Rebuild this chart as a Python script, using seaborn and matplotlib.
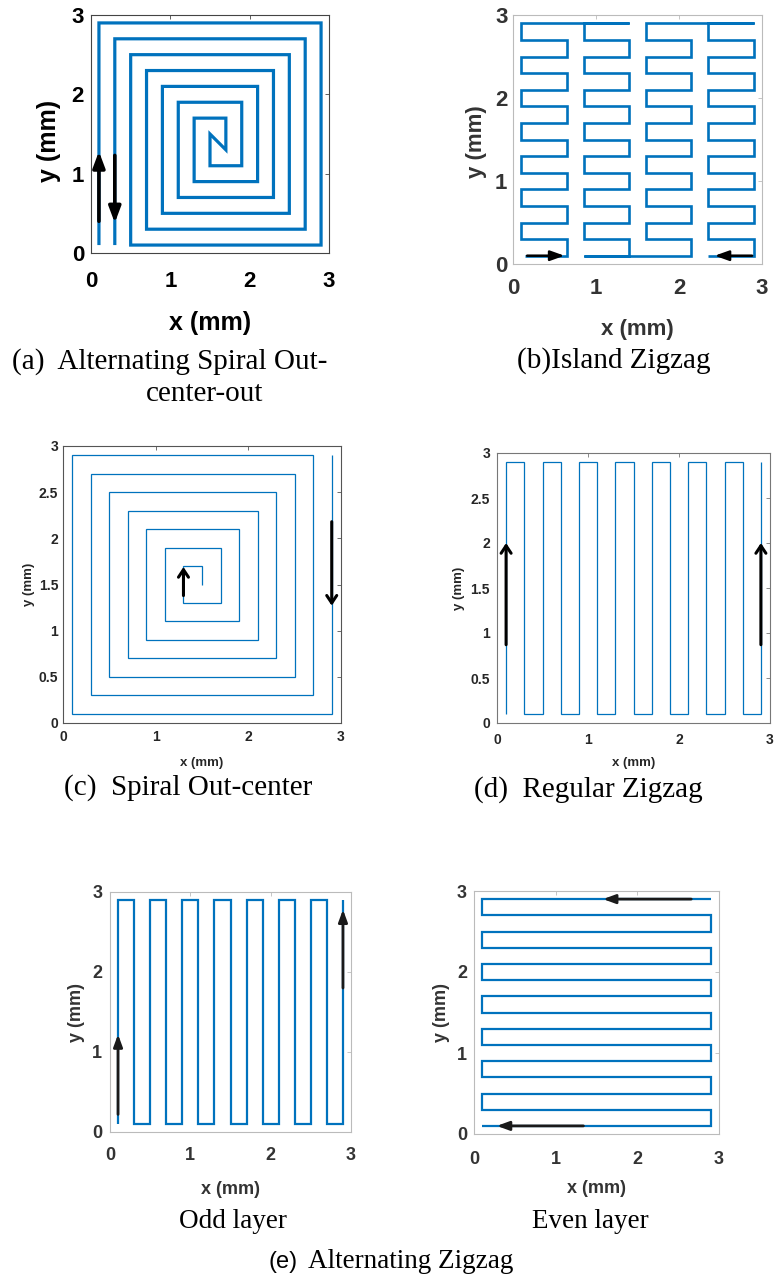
import matplotlib
matplotlib.use("Agg")
import matplotlib.pyplot as plt
import seaborn as sns
import pandas as pd

# ---------------- data ----------------
# (a) Alternating spiral out-center-out (path vertices, mm)
spiral_a_x = [0.1, 0.1, 2.9, 2.9, 0.5, 0.5, 2.5, 2.5, 0.9, 0.9, 2.1, 2.1, 1.3, 1.3, 1.7,
              1.7, 1.5, 1.5, 1.9, 1.9, 1.1, 1.1, 2.3, 2.3, 0.7, 0.7, 2.7, 2.7, 0.3, 0.3]
spiral_a_y = [0.1, 2.9, 2.9, 0.1, 0.1, 2.5, 2.5, 0.5, 0.5, 2.1, 2.1, 0.9, 0.9, 1.7, 1.7,
              1.3, 1.5, 1.1, 1.1, 1.9, 1.9, 0.7, 0.7, 2.3, 2.3, 0.3, 0.3, 2.7, 2.7, 0.1]
arrows_a = [(0.1, 0.40, 0.1, 1.28), (0.3, 1.23, 0.3, 0.38)]

# (b) Island zigzag
island_rows = [0.1, 0.3, 0.5, 0.7, 0.9, 1.1, 1.3, 1.5, 1.7, 1.9, 2.1, 2.3, 2.5, 2.7, 2.9]
island_left = [0.1, 0.85, 1.6, 2.35]
island_right = [0.65, 1.4, 2.15, 2.9]
island_upward = [True, False, True, False]
island_start_x = 0.15
arrows_b = [(0.17, 0.1, 0.62, 0.1), (2.88, 0.1, 2.43, 0.1)]

# (c) Spiral out-center
spiral_c_x = [1.5, 1.5, 1.3, 1.3, 1.7, 1.7, 1.1, 1.1, 1.9, 1.9, 0.9, 0.9, 2.1, 2.1, 0.7,
              0.7, 2.3, 2.3, 0.5, 0.5, 2.5, 2.5, 0.3, 0.3, 2.7, 2.7, 0.1, 0.1, 2.9, 2.9]
spiral_c_y = [1.5, 1.7, 1.7, 1.3, 1.3, 1.9, 1.9, 1.1, 1.1, 2.1, 2.1, 0.9, 0.9, 2.3, 2.3,
              0.7, 0.7, 2.5, 2.5, 0.5, 0.5, 2.7, 2.7, 0.3, 0.3, 2.9, 2.9, 0.1, 0.1, 2.9]
arrows_c = [(1.3, 1.38, 1.3, 1.69), (2.9, 2.18, 2.9, 1.27)]

# (d) Regular zigzag
zigzag_cols = [0.1, 0.3, 0.5, 0.7, 0.9, 1.1, 1.3, 1.5, 1.7, 1.9, 2.1, 2.3, 2.5, 2.7, 2.9]
zigzag_low, zigzag_high = 0.1, 2.9
arrows_d = [(0.1, 0.87, 0.1, 2.0), (2.9, 0.87, 2.9, 2.0)]

# (e) Alternating zigzag
arrows_e_odd = [(0.1, 0.22, 0.1, 1.22), (2.9, 1.80, 2.9, 2.78)]
zigzag_rows = [2.9, 2.7, 2.5, 2.3, 2.1, 1.9, 1.7, 1.5, 1.3, 1.1, 0.9, 0.7, 0.5, 0.3, 0.1]
arrows_e_even = [(2.66, 2.9, 1.58, 2.9), (1.34, 0.1, 0.28, 0.1)]

int_ticks = [0, 1, 2, 3]
int_labels = ["0", "1", "2", "3"]
half_ticks = [0, 0.5, 1, 1.5, 2, 2.5, 3]
half_labels = ["0", "0.5", "1", "1.5", "2", "2.5", "3"]

BLUE = "#0072BD"

# ---------------- path builders ----------------
def serpentine(xl, xr, rows, first_right):
    xs, ys = [], []
    for i, y in enumerate(rows):
        right = (i % 2 == 0) == first_right
        if right:
            xs += [xl, xr]
        else:
            xs += [xr, xl]
        ys += [y, y]
    return xs, ys


def island_path():
    xs, ys = [], []
    for xl, xr, up in zip(island_left, island_right, island_upward):
        rows = island_rows if up else island_rows[::-1]
        px, py = serpentine(xl, xr, rows, first_right=up)
        xs += px
        ys += py
    xs[0] = island_start_x
    return xs, ys


def column_path(cols):
    xs, ys = [], []
    for i, x in enumerate(cols):
        xs += [x, x]
        ys += [zigzag_low, zigzag_high] if i % 2 == 0 else [zigzag_high, zigzag_low]
    return xs, ys


def row_path(rows):
    xs, ys = [], []
    for i, y in enumerate(rows):
        xs += [zigzag_high, zigzag_low] if i % 2 == 0 else [zigzag_low, zigzag_high]
        ys += [y, y]
    return xs, ys


# ---------------- figure ----------------
sns.set_theme(style="white")
plt.rcParams["font.family"] = ["Liberation Sans", "DejaVu Sans"]

W, H = 774, 1281
fig = plt.figure(figsize=(W / 100, H / 100), dpi=100)


def make_axes(left, top, right, bottom):
    return fig.add_axes([left / W, 1 - bottom / H, (right - left) / W, (bottom - top) / H])


def draw_path(ax, xs, ys, lw):
    df = pd.DataFrame({"x": xs, "y": ys})
    sns.lineplot(data=df, x="x", y="y", sort=False, estimator=None, ax=ax,
                 color=BLUE, linewidth=lw, solid_joinstyle="miter",
                 solid_capstyle="butt")


def draw_arrows(ax, arrows, style, lw, color="black"):
    for x0, y0, x1, y1 in arrows:
        ax.annotate("", xy=(x1, y1), xytext=(x0, y0),
                    arrowprops=dict(arrowstyle=style, color=color, lw=lw,
                                    shrinkA=0, shrinkB=0))


def style_axes(ax, yticks, ylabels, spine_col, lab_col, tick_fs, lab_fs,
               xpad, ypad, xlab_y, ylab_x, ylab_y, spine_lw=0.8):
    ax.set_xlim(0, 3)
    ax.set_ylim(0, 3)
    ax.set_xticks(int_ticks)
    ax.set_xticklabels(int_labels, fontweight="bold")
    ax.set_yticks(yticks)
    ax.set_yticklabels(ylabels, fontweight="bold")
    ax.tick_params(direction="in", top=True, right=True, length=3, width=0.6,
                   color=spine_col, labelcolor=lab_col, labelsize=tick_fs)
    ax.tick_params(axis="x", pad=xpad)
    ax.tick_params(axis="y", pad=ypad)
    for s in ax.spines.values():
        s.set_color(spine_col)
        s.set_linewidth(spine_lw)
        s.set_visible(True)
    ax.set_xlabel("x (mm)", fontsize=lab_fs, fontweight="bold", color=lab_col)
    ax.set_ylabel("y (mm)", fontsize=lab_fs, fontweight="bold", color=lab_col)
    ax.xaxis.set_label_coords(0.5, xlab_y)
    ax.yaxis.set_label_coords(ylab_x, ylab_y)
    ax.set_facecolor("white")


# (a)
ax_a = make_axes(91, 15, 329, 253)
draw_path(ax_a, spiral_a_x, spiral_a_y, 2.3)
draw_arrows(ax_a, arrows_a, "-|>,head_length=0.8,head_width=0.3", 2.6)
style_axes(ax_a, int_ticks, int_labels, "#444444", "black", 16, 18,
           13, 5, -0.245, -0.125, 0.47)

# (b)
ax_b = make_axes(513, 15, 762, 264)
bx, by = island_path()
draw_path(ax_b, bx, by, 1.9)
draw_arrows(ax_b, arrows_b, "-|>,head_length=0.7,head_width=0.25", 1.8)
style_axes(ax_b, int_ticks, int_labels, "#bbbbbb", "#333333", 16, 16,
           10, 4, -0.222, -0.105, 0.49)

# (c)
ax_c = make_axes(63, 446, 341, 723)
draw_path(ax_c, spiral_c_x, spiral_c_y, 0.9)
draw_arrows(ax_c, arrows_c, "->,head_length=0.45,head_width=0.3", 2.2)
style_axes(ax_c, half_ticks, half_labels, "#555555", "#262626", 10, 9.5,
           5, 3.5, -0.122, -0.1, 0.5)

# (d)
ax_d = make_axes(497, 453, 770, 723)
dx, dy = column_path(zigzag_cols)
draw_path(ax_d, dx, dy, 0.9)
draw_arrows(ax_d, arrows_d, "->,head_length=0.45,head_width=0.3", 2.2)
style_axes(ax_d, half_ticks, half_labels, "#777777", "#262626", 10, 9.5,
           7, 5, -0.126, -0.117, 0.5)

# (e) odd layer
ax_e1 = make_axes(110, 892, 351, 1132)
ex, ey = column_path(zigzag_cols)
draw_path(ax_e1, ex, ey, 1.6)
draw_arrows(ax_e1, arrows_e_odd, "-|>,head_length=0.6,head_width=0.22", 2.0, "#1a1a1a")
style_axes(ax_e1, int_ticks, int_labels, "#bbbbbb", "#333333", 13, 13,
           11, 5.5, -0.205, -0.104, 0.5)

# (e) even layer
ax_e2 = make_axes(474, 891, 719, 1134)
fx, fy = row_path(zigzag_rows)
draw_path(ax_e2, fx, fy, 1.6)
draw_arrows(ax_e2, arrows_e_even, "-|>,head_length=0.6,head_width=0.22", 2.0, "#1a1a1a")
style_axes(ax_e2, int_ticks, int_labels, "#bbbbbb", "#333333", 13, 13,
           12, 5, -0.19, -0.098, 0.5)

# ---------------- captions ----------------
serif = ["Liberation Serif", "DejaVu Serif"]


def caption(x, y, s, ha="center", size=21, family=None):
    fig.text(x / W, 1 - y / H, s, ha=ha, va="center", fontsize=size,
             family=family or serif, color="black")


caption(12, 362, "(a)  Alternating Spiral Out-", ha="left")
caption(205, 394, "center-out")
caption(614, 361, "(b)Island Zigzag")
caption(188, 788, "(c)  Spiral Out-center")
caption(588, 790, "(d)  Regular Zigzag")
caption(233, 1222, "Odd layer", size=19.5)
caption(590, 1222, "Even layer", size=19.5)
caption(298, 1262, "(e)", ha="right", size=17, family=["Liberation Sans", "DejaVu Sans"])
caption(308, 1262, "Alternating Zigzag", ha="left", size=19.5)

fig.savefig("out.png", dpi=100)
